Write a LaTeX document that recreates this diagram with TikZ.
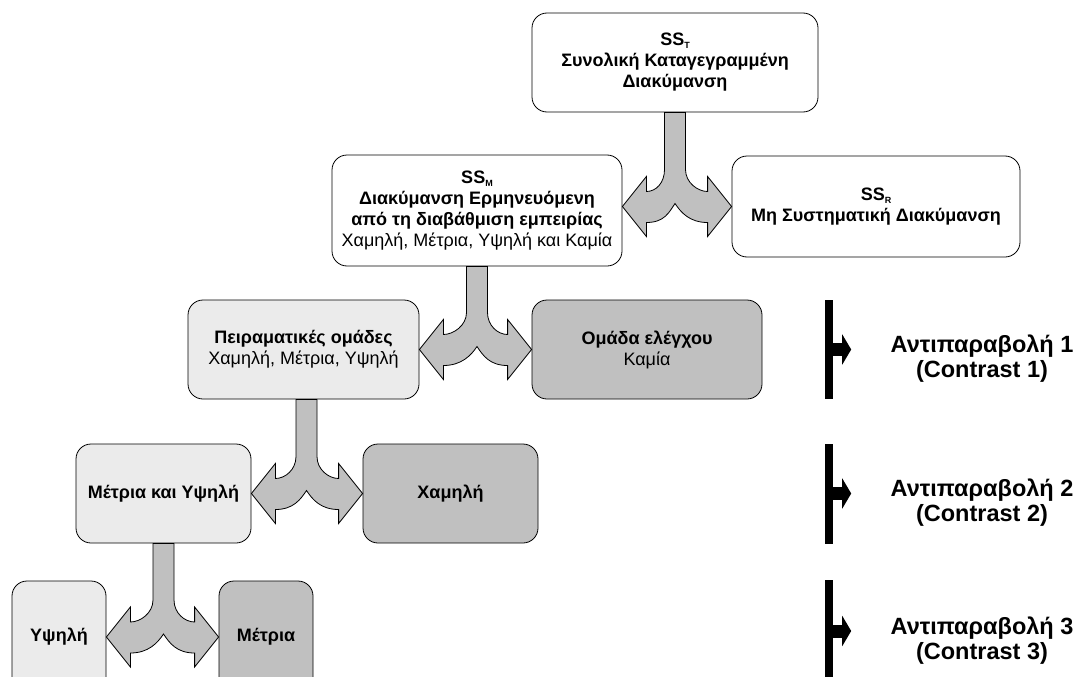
\documentclass[tikz,border=0pt]{standalone}
\usepackage{fontspec}
\setmainfont{Liberation Sans}
\usetikzlibrary{calc,arrows.meta}

\definecolor{lightgrey}{HTML}{EBEBEB}
\definecolor{midgrey}{HTML}{C0C0C0}

\newcommand\boxfont{\fontsize{18}{21}\selectfont}
\newcommand\contrastfont{\fontsize{23.5}{25}\selectfont\bfseries}
\newcommand\subidx[1]{\raisebox{-3pt}{\fontsize{9}{9}\selectfont\bfseries #1}}

% split arrow: stem hangs from #1 and forks into two arrowheads
% whose tips touch #2 (left) and #3 (right)
\newcommand\forkarrow[3]{%
  \draw[fork] let \p1=(#1), \p2=(#2), \p3=(#3) in
    (\x1-10.5pt,\y1) -- (\x1-10.5pt,\y3+37pt)
    .. controls (\x1-10.5pt,\y3+24pt) and (\x2+34pt,\y3+15pt) .. (\x2+24pt,\y3+15pt)
    -- (\x2+24pt,\y3+30pt) -- (\x2,\y3) -- (\x2+24pt,\y3-30pt) -- (\x2+24pt,\y3-16pt)
    .. controls (\x2+42pt,\y3-16pt) and (\x1-6pt,\y3-6pt) .. (\x1,\y3+3pt)
    .. controls (\x1+6pt,\y3-6pt) and (\x3-42pt,\y3-16pt) .. (\x3-24pt,\y3-16pt)
    -- (\x3-24pt,\y3-30pt) -- (\x3,\y3) -- (\x3-24pt,\y3+30pt) -- (\x3-24pt,\y3+15pt)
    .. controls (\x3-34pt,\y3+15pt) and (\x1+10.5pt,\y3+24pt) .. (\x1+10.5pt,\y3+37pt)
    -- (\x1+10.5pt,\y1) -- cycle;}

\tikzset{
  box/.style={draw=black, line width=0.8pt, rounded corners=15pt, inner sep=0pt,
              align=center, font=\boxfont},
  whitebox/.style={box, fill=white},
  lightbox/.style={box, fill=lightgrey},
  darkbox/.style={box, fill=midgrey},
  fork/.style={draw=black, line width=0.8pt, fill=midgrey, line join=miter},
  bar/.style={fill=black, inner sep=0pt, minimum width=8pt},
  barArrow/.style={line width=13pt, -{Triangle[length=9pt,width=30pt]}},
  contrast/.style={align=center, font=\contrastfont, inner sep=0pt}
}

\begin{document}
\begin{tikzpicture}[x=1pt,y=-1pt]
\useasboundingbox (0,0) rectangle (1079,677);
\clip (0,0) rectangle (1079,677);

% partition of variance
\node[whitebox, minimum width=286pt, minimum height=99pt] (T) at (675,62.5)
  {\textbf{SS\subidx{T}}\\\textbf{Συνολική Καταγεγραμμένη}\\\textbf{Διακύμανση}};
\node[whitebox, minimum width=290pt, minimum height=111pt] (M) at (477,210.5)
  {\textbf{SS\subidx{M}}\\\textbf{Διακύμανση Ερμηνευόμενη}\\\textbf{από τη διαβάθμιση εμπειρίας}\\Χαμηλή, Μέτρια, Υψηλή και Καμία};
\node[whitebox, minimum width=288pt, minimum height=101pt] (R) at (876,206.5)
  {\textbf{SS\subidx{R}}\\\textbf{Μη Συστηματική Διακύμανση}};

% contrast 1
\node[lightbox, minimum width=231pt, minimum height=99pt] (P) at (303.5,349.5)
  {\textbf{Πειραματικές ομάδες}\\Χαμηλή, Μέτρια, Υψηλή};
\node[darkbox, minimum width=230pt, minimum height=99pt] (O) at (647,349.5)
  {\textbf{Ομάδα ελέγχου}\\Καμία};

% contrast 2
\node[lightbox, minimum width=175pt, minimum height=99pt] (MY) at (163.5,493.5)
  {\textbf{Μέτρια και Υψηλή}};
\node[darkbox, minimum width=175pt, minimum height=99pt] (X) at (450.5,493.5)
  {\textbf{Χαμηλή}};

% contrast 3
\node[lightbox, minimum width=94pt, minimum height=112pt] (Y) at (59,637)
  {\textbf{Υψηλή}};
\node[darkbox, minimum width=94pt, minimum height=112pt] (Me) at (266,637)
  {\textbf{Μέτρια}};

% split arrows
\forkarrow{T.south}{M.east}{R.west}
\forkarrow{M.south}{P.east}{O.west}
\forkarrow{[xshift=3pt]P.south}{MY.east}{X.west}
\forkarrow{MY.south}{Y.east}{Me.west}

% contrast markers
\node[bar, minimum height=99pt] (b1) at (829,349.5) {};
\node[bar, minimum height=100pt] (b2) at (829,493.5) {};
\node[bar, minimum height=102pt] (b3) at (829,631) {};
\draw[barArrow] (b1.east) -- ++(18,0);
\draw[barArrow] (b2.east) -- ++(18,0);
\draw[barArrow] (b3.east) -- ++(18,0);

\node[contrast] (c1) at (982,359) {Αντιπαραβολή 1\\(Contrast 1)};
\node[contrast] (c2) at (982,503) {Αντιπαραβολή 2\\(Contrast 2)};
\node[contrast] (c3) at (982,641) {Αντιπαραβολή 3\\(Contrast 3)};
\end{tikzpicture}
\end{document}
